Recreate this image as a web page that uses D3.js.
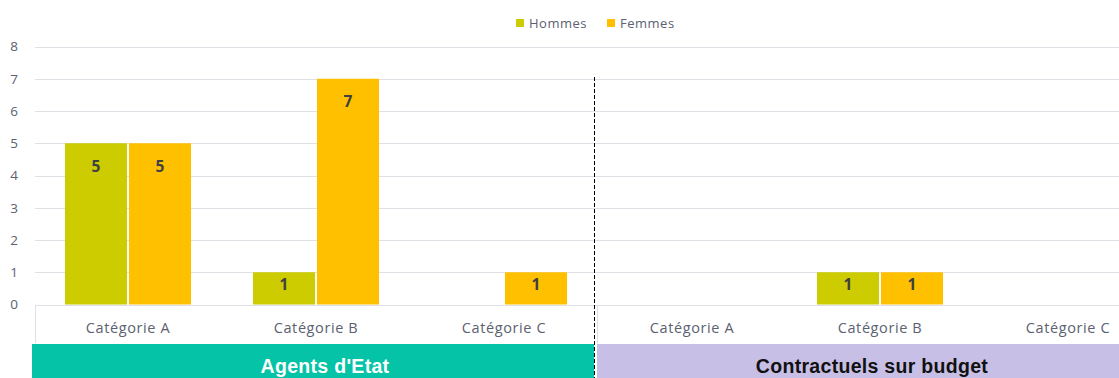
<!DOCTYPE html>
<html>
<head>
<meta charset="utf-8">
<script src="https://cdn.jsdelivr.net/npm/d3@7"></script>
<style>
  html, body { margin: 0; padding: 0; background: #fff; }
  svg { display: block; }
</style>
</head>
<body>
<svg id="chart" width="1119" height="378"></svg>
<script>
// Effectifs par catégorie et par sexe
const groups = ["Agents d'Etat", "Contractuels sur budget"];
const categories = ["Catégorie A", "Catégorie B", "Catégorie C"];
const series = ["Hommes", "Femmes"];
const hommes = [5, 1, 0, 0, 1, 0];
const femmes = [5, 7, 1, 0, 1, 0];
const yTicks = [0, 1, 2, 3, 4, 5, 6, 7, 8];

const colors = { Hommes: "#CCCC00", Femmes: "#FFC000" };
const groupFill = ["#05C3A6", "#C8BFE6"];
const groupText = ["#ffffff", "#111111"];
const textColor = "#5B6170";
const font = "'Open Sans', Lato, sans-serif";

const svg = d3.select("#chart");
const W = 1119, H = 378;

const plotLeft = 34, slot = 188;
const slots = groups.flatMap((g, gi) => categories.map((c, ci) => ({ g, gi, c, ci, key: gi + "|" + c })));
const x0 = d3.scaleBand()
  .domain(slots.map(d => d.key))
  .range([plotLeft, plotLeft + slot * slots.length])
  .padding(0);
const x1 = d3.scaleBand()
  .domain(series)
  .range([0, x0.bandwidth()])
  .paddingInner(0.03125)
  .paddingOuter(0.484);
const y = d3.scaleLinear().domain([0, 8]).range([304.5, 46.5]);

// Gridlines
svg.append("g")
  .selectAll("line")
  .data(yTicks)
  .join("line")
  .attr("x1", plotLeft + 1).attr("x2", W)
  .attr("y1", d => Math.round(y(d)) + 0.5).attr("y2", d => Math.round(y(d)) + 0.5)
  .attr("stroke", "#DDE1E6").attr("stroke-width", 1);

// Y axis labels
const yAxis = d3.axisLeft(y).tickValues(yTicks).tickSize(0).tickPadding(0).tickFormat(d3.format("d"));
const yg = svg.append("g").attr("transform", "translate(18,0)").call(yAxis);
yg.select(".domain").remove();
yg.selectAll("text")
  .attr("fill", textColor)
  .style("font-family", font)
  .style("font-size", "13.5px");

// Bars
const rows = slots.map((s, i) => ({ ...s, values: [hommes[i], femmes[i]] }));
const barG = svg.append("g");
rows.forEach(r => {
  const g = barG.append("g").attr("transform", `translate(${x0(r.key)},0)`);
  series.forEach((s, si) => {
    const v = r.values[si];
    if (!v) return;
    const top = y(v), h = y(0) - y(v);
    g.append("rect")
      .attr("x", x1(s)).attr("y", top)
      .attr("width", x1.bandwidth()).attr("height", h)
      .attr("fill", colors[s]);
    g.append("text")
      .attr("x", x1(s) + x1.bandwidth() / 2)
      .attr("y", top + Math.min(23, h * 0.37))
      .attr("dy", "0.35em")
      .attr("text-anchor", "middle")
      .attr("fill", "#404040")
      .style("font-family", font)
      .style("font-weight", "bold")
      .style("font-size", "15.5px")
      .text(v);
  });
});

// Category labels row
const catTop = 305, catBottom = 343;
const xAxis = d3.axisBottom(x0).tickSize(0).tickPadding(0).tickFormat(k => k.split("|")[1]);
const xg = svg.append("g").attr("transform", `translate(0,333)`).call(xAxis);
xg.select(".domain").remove();
xg.selectAll("text")
  .attr("fill", textColor)
  .attr("dy", "0")
  .style("font-family", font)
  .style("font-size", "14.5px")
  .style("letter-spacing", "0.6px");

// Table borders in category row
svg.append("g")
  .selectAll("line")
  .data([plotLeft + 1, 597])
  .join("line")
  .attr("x1", d => d + 0.5).attr("x2", d => d + 0.5)
  .attr("y1", catTop).attr("y2", catBottom)
  .attr("stroke", "#DDE1E6");

// Group bands
const bands = [
  { x: 32, w: 562, cx: 325 },
  { x: 597, w: W - 597, cx: 872 }
];
const bg = svg.append("g");
groups.forEach((g, i) => {
  bg.append("rect")
    .attr("x", bands[i].x).attr("y", 344)
    .attr("width", bands[i].w).attr("height", H - 344)
    .attr("fill", groupFill[i]);
  bg.append("text")
    .attr("x", bands[i].cx).attr("y", 372.5)
    .attr("text-anchor", "middle")
    .attr("fill", groupText[i])
    .style("font-family", "'Liberation Sans', Arial, sans-serif")
    .style("font-weight", "bold")
    .style("font-size", "19.5px")
    .style("letter-spacing", "0.3px")
    .text(g);
});

// Dashed separator between groups
svg.append("line")
  .attr("x1", 594.5).attr("x2", 594.5)
  .attr("y1", 77).attr("y2", H)
  .attr("stroke", "#000").attr("stroke-width", 1)
  .attr("stroke-dasharray", "4,2");

// Legend
const legend = svg.append("g");
const legendItems = [{ s: "Hommes", x: 516 }, { s: "Femmes", x: 607 }];
legendItems.forEach(it => {
  legend.append("rect")
    .attr("x", it.x).attr("y", 19).attr("width", 8).attr("height", 8)
    .attr("fill", colors[it.s]);
  legend.append("text")
    .attr("x", it.x + 13).attr("y", 23).attr("dy", "0.35em")
    .attr("fill", textColor)
    .style("font-family", font)
    .style("font-size", "13px")
    .style("letter-spacing", "0.5px")
    .text(it.s);
});
</script>
</body>
</html>
